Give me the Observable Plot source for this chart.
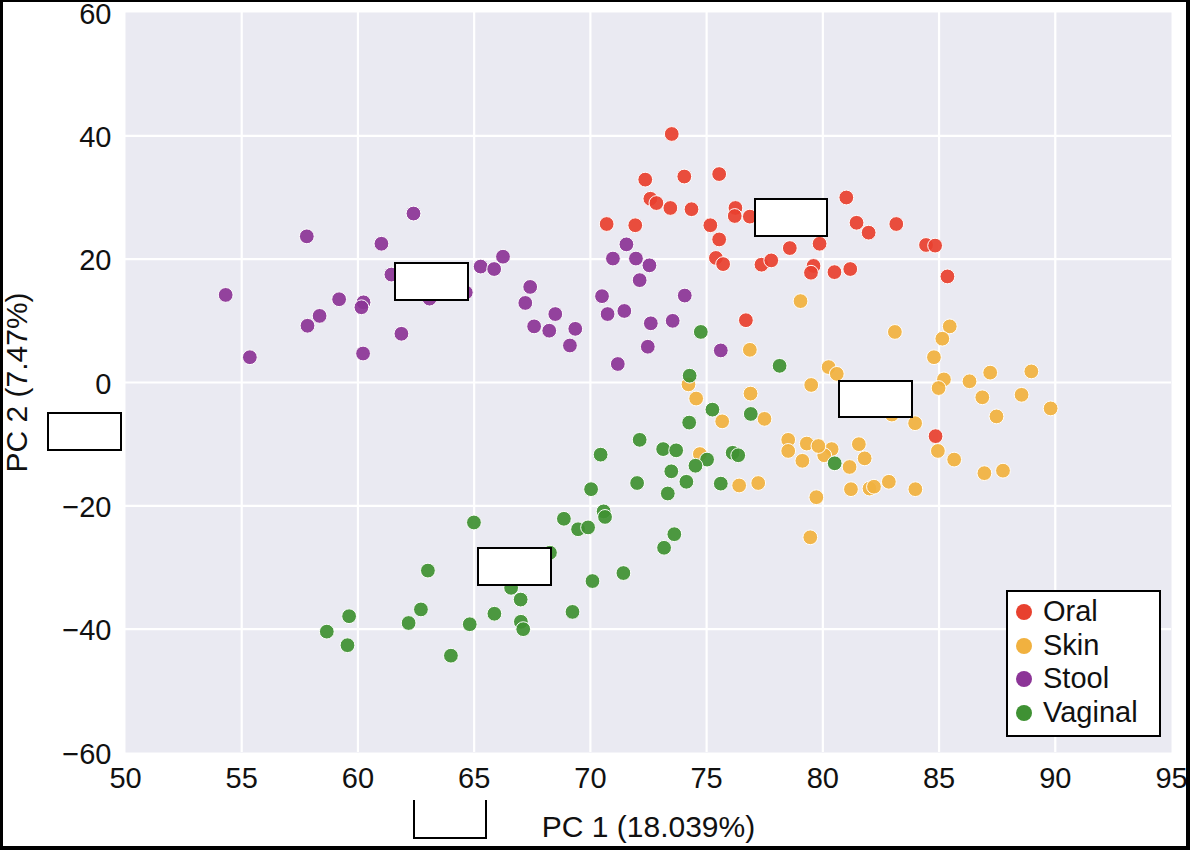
<!DOCTYPE html>
<html>
<head>
<meta charset="utf-8">
<script src="https://cdn.jsdelivr.net/npm/d3@7"></script>
<script src="https://cdn.jsdelivr.net/npm/@observablehq/plot@0.6"></script>
<style>
  html, body { margin: 0; padding: 0; background: #fff; }
  #wrap { position: relative; width: 1190px; height: 852px; overflow: hidden; font-family: "Liberation Sans", Arial, sans-serif; }
  #wrap svg { position: absolute; left: 0; top: 0; }
  .box { position: absolute; background: #fff; border: 2px solid #000; box-sizing: border-box; }
  #frame { position: absolute; left: 0; top: 0; width: 1190px; height: 850px; box-sizing: border-box;
           border-left: 3px solid #000; border-top: 2px solid #000; border-right: 4px solid #000; border-bottom: 4px solid #000; pointer-events: none; }
  #legend { position: absolute; left: 1006px; top: 590px; width: 155px; height: 147px; box-sizing: border-box;
            background: #fff; border: 2px solid #000; padding-top: 3px; }
  .item { position: relative; height: 33.7px; line-height: 33.7px; font-size: 29px; color: #111; padding-left: 35px; }
  .sw { position: absolute; left: 8px; top: 9px; width: 16px; height: 16px; border-radius: 50%; }
</style>
</head>
<body>
<div id="wrap"></div>
<script>
const categories = ["Oral", "Skin", "Stool", "Vaginal"];
const colors = ["#e8412f", "#f1b13f", "#8c3597", "#3f9133"];
const xTicks = [50, 55, 60, 65, 70, 75, 80, 85, 90, 95];
const yTicks = [-60, -40, -20, 0, 20, 40, 60];
const xLabel = "PC 1 (18.039%)";
const yLabel = "PC 2 (7.47%)";

const oralPC1 = [73.5, 72.36, 74.04, 75.54, 72.58, 72.84, 73.44, 74.35, 76.24, 76.21, 76.86, 70.70, 71.93, 75.16, 75.54, 75.40, 75.71, 77.36, 77.78, 78.58, 76.69, 81.01, 81.45, 81.97, 83.16, 84.44, 84.83, 85.36, 79.86, 79.60, 79.49, 80.50, 81.18, 84.85];
const oralPC2 = [40.3, 32.9, 33.4, 33.8, 29.8, 29.1, 28.3, 28.1, 28.3, 27.0, 26.9, 25.7, 25.5, 25.5, 23.2, 20.2, 19.2, 19.1, 19.8, 21.8, 10.1, 30.0, 25.9, 24.3, 25.7, 22.3, 22.2, 17.2, 22.5, 18.9, 17.8, 17.9, 18.4, -8.7];

const skinPC1 = [76.86, 79.04, 83.10, 85.46, 85.14, 84.78, 80.25, 80.60, 79.50, 76.89, 74.22, 74.55, 77.49, 75.67, 85.21, 84.98, 86.31, 87.20, 88.97, 86.86, 88.55, 89.80, 87.47, 83.97, 82.97, 84.95, 85.65, 86.95, 87.75, 81.55, 81.80, 80.38, 80.06, 81.15, 81.21, 82.01, 82.20, 82.84, 83.98, 78.51, 79.31, 79.81, 78.51, 79.12, 76.40, 77.22, 79.72, 79.46, 74.71];
const skinPC2 = [5.3, 13.2, 8.2, 9.1, 7.1, 4.1, 2.5, 1.4, -0.4, -1.8, -0.3, -2.6, -5.9, -6.3, 0.5, -0.9, 0.2, 1.6, 1.8, -2.4, -2.0, -4.2, -5.5, -6.6, -5.2, -11.1, -12.5, -14.7, -14.3, -10.0, -12.3, -10.8, -11.8, -13.7, -17.3, -17.2, -16.9, -16.1, -17.3, -9.3, -9.9, -10.3, -11.1, -12.7, -16.7, -16.3, -18.6, -25.1, -11.6];

const stoolPC1 = [54.31, 55.35, 57.80, 57.83, 58.35, 59.19, 60.24, 60.15, 60.22, 61.01, 61.44, 61.87, 62.39, 63.08, 64.64, 65.28, 65.86, 66.24, 67.41, 67.20, 68.49, 67.58, 68.23, 69.35, 69.12, 71.55, 70.97, 71.96, 72.54, 72.12, 70.50, 70.74, 71.46, 74.06, 72.60, 73.54, 72.47, 71.18, 75.61];
const stoolPC2 = [14.2, 4.1, 23.7, 9.2, 10.8, 13.5, 13.0, 12.2, 4.7, 22.5, 17.5, 7.9, 27.4, 13.6, 14.6, 18.8, 18.4, 20.4, 15.5, 12.9, 11.1, 9.1, 8.4, 8.7, 6.0, 22.4, 20.1, 20.1, 19.0, 16.6, 14.0, 11.1, 11.6, 14.1, 9.6, 10.0, 5.8, 3.0, 5.2];

const vaginalPC1 = [74.75, 78.14, 74.27, 75.25, 76.90, 74.25, 72.12, 73.13, 73.69, 70.44, 76.12, 76.36, 75.02, 74.52, 73.48, 72.01, 74.13, 75.61, 80.51, 70.03, 73.33, 68.86, 70.57, 70.63, 69.47, 69.90, 73.61, 73.17, 71.42, 70.09, 64.99, 63.01, 68.26, 66.59, 67.00, 65.87, 69.23, 64.81, 67.01, 67.11, 62.71, 62.18, 59.62, 58.66, 59.55, 64.00];
const vaginalPC2 = [8.2, 2.7, 1.1, -4.4, -5.1, -6.5, -9.3, -10.8, -11.0, -11.7, -11.4, -11.8, -12.5, -13.5, -14.4, -16.3, -16.1, -16.4, -13.1, -17.3, -18.0, -22.1, -20.9, -21.8, -23.8, -23.5, -24.6, -26.8, -30.9, -32.2, -22.7, -30.5, -27.6, -33.3, -35.2, -37.5, -37.2, -39.2, -38.8, -40.0, -36.8, -39.0, -37.9, -40.4, -42.6, -44.3];

const series = [
  [categories[0], oralPC1, oralPC2],
  [categories[1], skinPC1, skinPC2],
  [categories[2], stoolPC1, stoolPC2],
  [categories[3], vaginalPC1, vaginalPC2]
];
const rows = series.flatMap(([site, xs, ys]) => xs.map((x, i) => ({site, pc1: x, pc2: ys[i]})));

const inner = (arr) => arr.slice(1, -1);

const chart = Plot.plot({
  width: 1190,
  height: 852,
  marginLeft: 125,
  marginRight: 19,
  marginTop: 12,
  marginBottom: 100,
  style: {fontFamily: '"Liberation Sans", Arial, sans-serif', fontSize: "29px", color: "#111", background: "transparent"},
  x: {domain: [50, 95]},
  y: {domain: [-60, 60]},
  color: {domain: categories, range: colors},
  marks: [
    Plot.frame({fill: "#eaeaf2", stroke: null}),
    Plot.gridX(inner(xTicks), {stroke: "#ffffff", strokeOpacity: 1, strokeWidth: 2.2}),
    Plot.gridY(inner(yTicks), {stroke: "#ffffff", strokeOpacity: 1, strokeWidth: 2.2}),
    Plot.axisX(xTicks, {tickSize: 0, tickPadding: 15, label: null, fontSize: 29}),
    Plot.axisY(yTicks, {tickSize: 0, tickPadding: 14, label: null, fontSize: 29, dy: 2}),
    Plot.dot(rows, {x: "pc1", y: "pc2", fill: "site", r: 7.4, stroke: "white", strokeWidth: 1, fillOpacity: 0.93}),
    Plot.text([xLabel], {frameAnchor: "bottom", dy: 84, fontSize: 30, fill: "#111", textAnchor: "middle"}),
    Plot.text([yLabel], {frameAnchor: "left", dx: -108, rotate: -90, fontSize: 30, fill: "#111", textAnchor: "middle"})
  ]
});

const wrap = document.getElementById("wrap");
wrap.appendChild(chart);

// legend
const legend = document.createElement("div");
legend.id = "legend";
categories.forEach((c, i) => {
  const item = document.createElement("div");
  item.className = "item";
  const sw = document.createElement("span");
  sw.className = "sw";
  sw.style.background = colors[i];
  item.appendChild(sw);
  item.appendChild(document.createTextNode(c));
  legend.appendChild(item);
});
wrap.appendChild(legend);

// blank annotation boxes present in the reference image
const boxes = [
  [754, 198, 74, 39, ""],
  [394, 262, 75, 39, ""],
  [838, 380, 75, 38, ""],
  [47, 412, 75, 39, ""],
  [477, 547, 75, 39, ""],
  [413, 800, 74, 39, "border-top:none"]
];
boxes.forEach(([l, t, w, h, extra]) => {
  const b = document.createElement("div");
  b.className = "box";
  b.style.cssText = `left:${l}px;top:${t}px;width:${w}px;height:${h}px;${extra}`;
  wrap.appendChild(b);
});

const frame = document.createElement("div");
frame.id = "frame";
wrap.appendChild(frame);
</script>
</body>
</html>
